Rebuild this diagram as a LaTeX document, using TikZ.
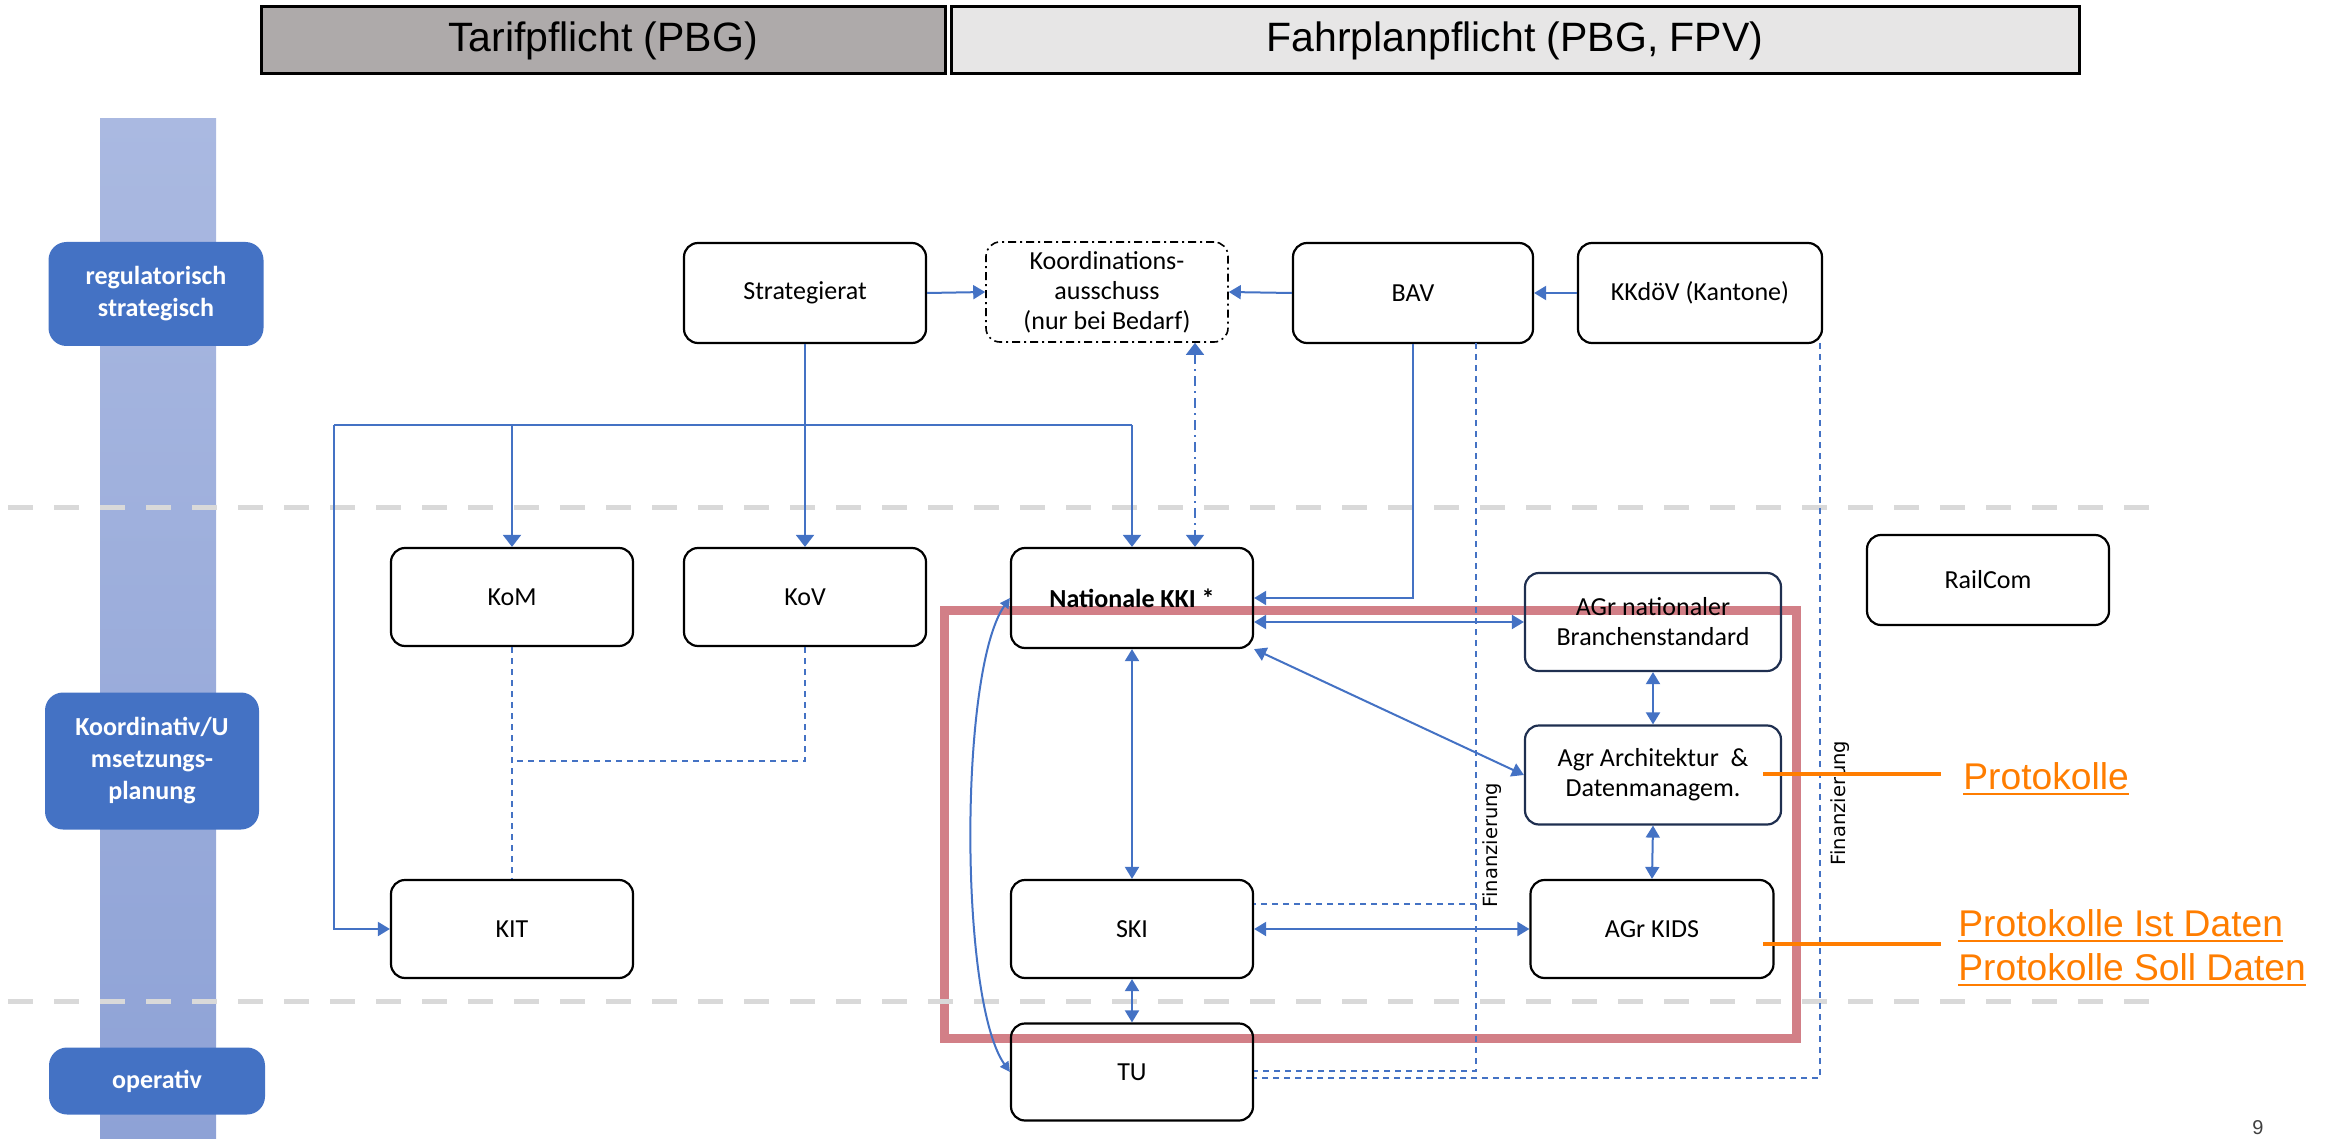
\documentclass[tikz,border=0pt]{standalone}
\usepackage{fontspec}
\setmainfont{Carlito}
\newfontfamily\arialfont{Liberation Sans}
\newfontfamily\dvfont{DejaVu Sans}
\usetikzlibrary{arrows.meta,calc}
\definecolor{bblue}{HTML}{4472C4}
\definecolor{navyb}{HTML}{1F2F50}
\definecolor{tgray}{HTML}{AEAAAA}
\definecolor{lgray}{HTML}{E7E6E6}
\definecolor{dgray}{HTML}{D9D9D9}
\definecolor{redc}{HTML}{D27F87}
\definecolor{orng}{RGB}{255,125,0}
\definecolor{bartop}{RGB}{170,185,225}
\definecolor{barbot}{RGB}{142,162,214}
\begin{document}
\begin{tikzpicture}[x=0.5pt,y=-0.5pt,
  box/.style={draw=black, line width=1.1pt, rounded corners=7pt, minimum width=121pt, minimum height=50pt, align=center, inner sep=0pt, font=\fontsize{13}{15}\selectfont},
  lbl/.style={fill=bblue, draw=none, rounded corners=9pt, text=white, align=center, inner sep=0pt, font=\bfseries\fontsize{13}{16}\selectfont},
  conn/.style={draw=bblue, line width=1pt},
  fin/.style={draw=bblue, line width=0.8pt, dash pattern=on 3pt off 2.5pt},
  onearrow/.style={-{Triangle[length=6pt,width=7pt]}},
  bigarrow/.style={-{Triangle[length=6pt,width=9pt]}},
  twoarrow/.style={{Triangle[length=6pt,width=7pt]}-{Triangle[length=6pt,width=7pt]}},
  smallarrow/.style={{Triangle[length=5pt,width=5pt]}-{Triangle[length=5pt,width=5pt]}},
  ddline/.style={draw=bblue, line width=0.8pt, dash pattern=on 5pt off 2.5pt on 1pt off 2.5pt},
  grayline/.style={draw=dgray, line width=2.5pt, dash pattern=on 12.5pt off 10.5pt},
  otext/.style={anchor=base west, inner sep=0pt, text=orng, font=\arialfont\fontsize{18.6}{22}\selectfont},
  ftext/.style={rotate=90, inner sep=0pt, font=\dvfont\fontsize{9.75}{12}\selectfont}
]
\useasboundingbox (0,0) rectangle (2325,1139);

% vertical bar
\shade[top color=bartop, bottom color=barbot] (100,119) rectangle (216,1139);

% header
\node[draw=black, line width=1.5pt, fill=tgray, minimum width=342pt, minimum height=33.5pt, inner sep=0pt, font=\arialfont\fontsize{20.5}{24}\selectfont] (tarif) at (603,40.5) {Tarifpflicht (PBG)};
\node[draw=black, line width=1.5pt, fill=lgray, minimum width=564pt, minimum height=33.5pt, inner sep=0pt, font=\arialfont\fontsize{20.5}{24}\selectfont] (fahr) at (1515,40.5) {Fahrplanpflicht (PBG, FPV)};

% red frame
\draw[draw=redc, line width=4.5pt] (944,610) rectangle (1796,1038);

% gray separators
\draw[grayline] (8,507) -- (2165,507);
\draw[grayline] (8,1001) -- (2165,1001);

% level labels
\node[lbl, minimum width=107.5pt, minimum height=52pt] (lreg) at (156,294) {regulatorisch\\strategisch};
\node[lbl, minimum width=107pt, minimum height=68.5pt] (lkoo) at (152,761) {Koordinativ/U\\msetzungs-\\planung};
\node[lbl, minimum width=108pt, minimum height=33.5pt] (lop) at (157,1081) {operativ};

% nodes
\node[box] (strat) at (805,293) {Strategierat};
\node[box, line width=0.8pt, dash pattern=on 4pt off 2pt on 1pt off 2pt] (koord) at (1107,292) {Koordinations-\\ausschuss\\(nur bei Bedarf)};
\node[box, minimum width=120pt] (bav) at (1413,293) {BAV};
\node[box, minimum width=122pt] (kkdov) at (1700,293) {KKdöV (Kantone)};
\node[box, minimum height=49pt] (kom) at (512,597) {KoM};
\node[box, minimum height=49pt] (kov) at (805,597) {KoV};
\node[box, minimum height=50pt, font=\bfseries\fontsize{13}{15}\selectfont] (kki) at (1132,598) {Nationale KKI *};
\node[box, minimum height=45pt] (rail) at (1988,580) {RailCom};
\node[box, draw=navyb, minimum width=128pt, minimum height=49pt] (agrnat) at (1653,622) {AGr nationaler\\Branchenstandard};
\node[box, draw=navyb, minimum width=128pt, minimum height=49.5pt] (agrarch) at (1653,775) {Agr Architektur~ \&\\Datenmanagem.};
\node[box, minimum width=121.5pt, minimum height=49pt] (kids) at (1652,929) {AGr KIDS};
\node[box, minimum height=49pt] (kit) at (512,929) {KIT};
\node[box, minimum height=49pt] (ski) at (1132,929) {SKI};
\node[box, minimum height=48.5pt] (tu) at (1132,1072) {TU};

% top row connectors
\draw[conn, onearrow] (strat.east) -- (koord.west);
\draw[conn, onearrow] (bav.west) -- (koord.east);
\draw[conn, onearrow] (kkdov.west) -- (bav.east);

% Strategierat distribution
\coordinate (hl) at (334,425);
\coordinate (hr) at (1132,425);
\draw[conn, bigarrow] (strat.south) -- (kov.north);
\draw[conn] (hl) -- (hr);
\draw[conn, bigarrow] (hr) -- (kki.north);
\draw[conn, bigarrow] (kom.north |- hl) -- (kom.north);
\draw[conn, onearrow] (hl) |- (kit.west);

% Koordinationsausschuss <-> KKI
\coordinate (ddx) at (1195,450);
\draw[ddline, {Triangle[length=6pt,width=9pt]}-{Triangle[length=6pt,width=9pt]}] (ddx |- koord.south) -- (ddx |- kki.north);

% BAV -> KKI
\draw[conn, onearrow] (bav.south) |- (kki.east);

% KKI cluster
\draw[conn, twoarrow] (kki.east |- agrnat.west) -- (agrnat.west);
\draw[conn, twoarrow] (kki.south east) -- (agrarch.west);
\draw[conn, twoarrow] (agrnat.south) -- (agrarch.north);
\draw[conn, twoarrow] (agrarch.south) -- (kids.north);
\draw[conn, twoarrow] (kki.south) -- (ski.north);
\draw[conn, twoarrow] (ski.east) -- (kids.west);
\draw[conn, twoarrow] (ski.south) -- (tu.north);
\draw[conn, smallarrow] (kki.west) .. controls (959,670) and (959,1000) .. (tu.west);

% KoM / KoV to KIT dashed
\coordinate (kvj) at (512,761);
\draw[fin] (kom.south) -- (kit.north);
\draw[fin] (kov.south) |- (kvj);

% Finanzierung lines
\coordinate (f1t) at (1476,343);
\coordinate (f1b) at (1476,1071);
\coordinate (f1s) at (1476,904);
\draw[fin] (f1t) -- (f1b) -- (tu.east |- f1b);
\draw[fin] (f1s) -- (ski.east |- f1s);
\coordinate (f2t) at (1820,343);
\coordinate (f2b) at (1820,1078);
\draw[fin] (f2t) -- (f2b) -- (tu.east |- f2b);
\node[ftext] (fin1) at (1492,845) {Finanzierung};
\node[ftext] (fin2) at (1840,803) {Finanzierung};

% Protokolle annotations
\coordinate (o1a) at (1763,774);
\coordinate (o1b) at (1941,774);
\coordinate (o2a) at (1763,944);
\coordinate (o2b) at (1941,944);
\draw[orng, line width=2pt] (o1a) -- (o1b);
\draw[orng, line width=2pt] (o2a) -- (o2b);
\node[otext] (p1) at (1963,789) {Protokolle};
\node[otext] (p2) at (1958,936) {Protokolle Ist Daten};
\node[otext] (p3) at (1958,980) {Protokolle Soll Daten};
\draw[orng, line width=1.4pt] ([yshift=-2.5pt]p1.base west) -- ([yshift=-2.5pt]p1.base east);
\draw[orng, line width=1.4pt] ([yshift=-2.5pt]p2.base west) -- ([yshift=-2.5pt]p2.base east);
\draw[orng, line width=1.4pt] ([yshift=-2.5pt]p3.base west) -- ([yshift=-2.5pt]p3.base east);

% page number
\node[inner sep=0pt, text=black!75, font=\arialfont\fontsize{10}{12}\selectfont] (pnum) at (2258,1128) {9};
\end{tikzpicture}
\end{document}
